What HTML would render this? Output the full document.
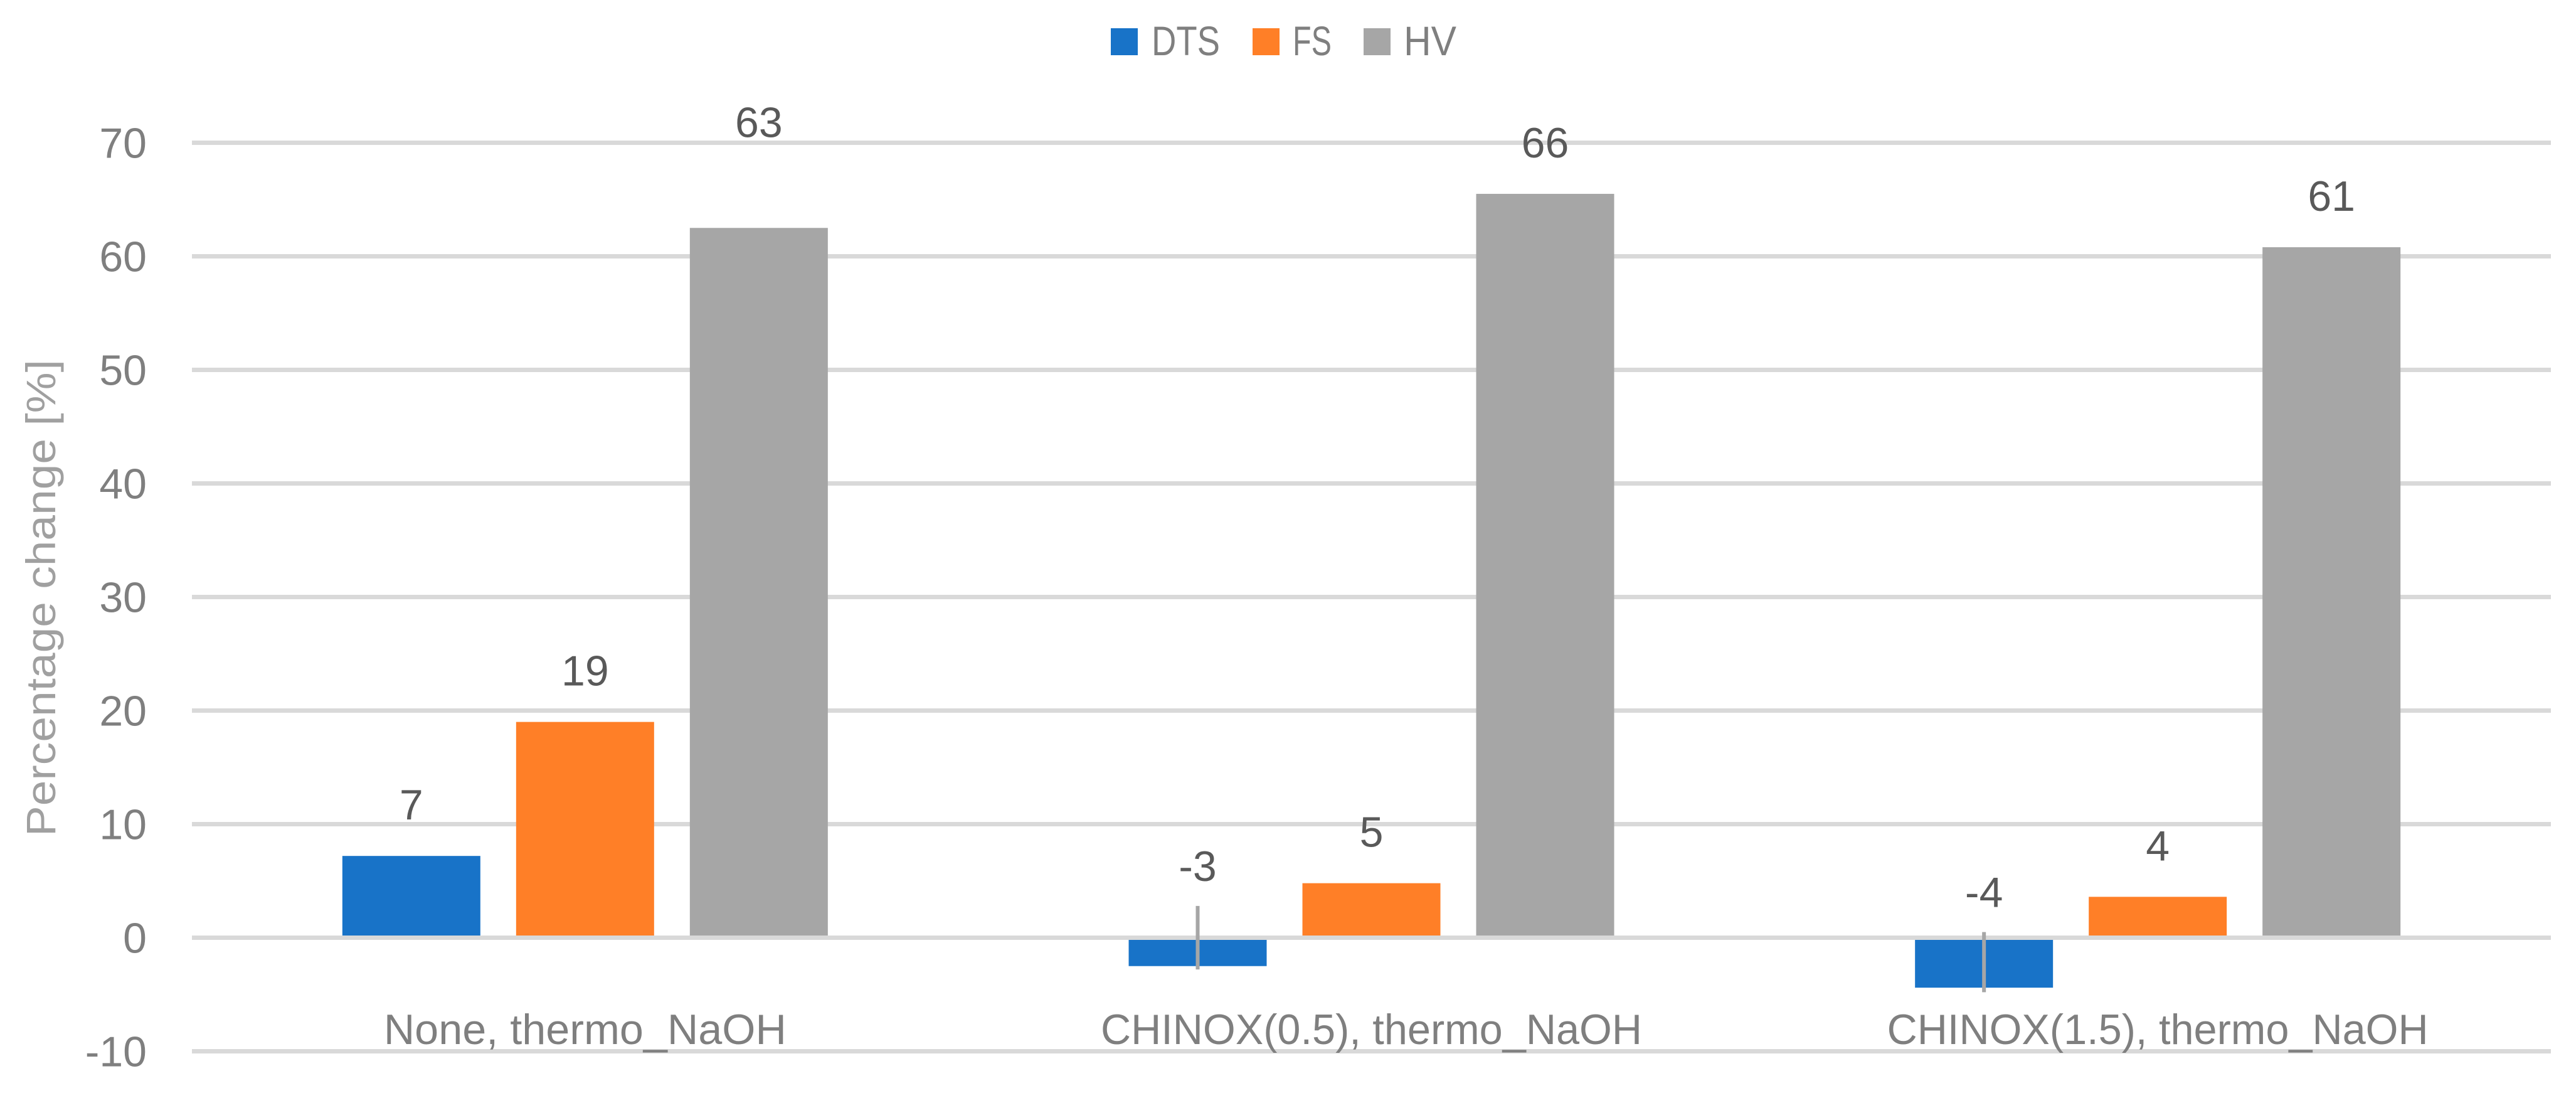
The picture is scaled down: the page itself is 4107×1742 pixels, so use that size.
<!DOCTYPE html>
<html><head><meta charset="utf-8"><style>
html,body{margin:0;padding:0;background:#fff;}
svg{display:block;}
text{font-family:"Liberation Sans",sans-serif;}
</style></head><body>
<svg id="chart" width="4107" height="1742" viewBox="0 0 4107 1742" xmlns="http://www.w3.org/2000/svg">
<g id="legend">
 <g><rect x="1771" y="45" width="43" height="43" fill="#1873C8"/><text x="1836" y="88" font-size="66" fill="#7f7f7f" textLength="109" lengthAdjust="spacingAndGlyphs">DTS</text></g>
 <g><rect x="1997" y="45" width="43" height="43" fill="#FF7F27"/><text x="2061" y="88" font-size="66" fill="#7f7f7f" textLength="62" lengthAdjust="spacingAndGlyphs">FS</text></g>
 <g><rect x="2174" y="45" width="43" height="43" fill="#A6A6A6"/><text x="2238" y="88" font-size="66" fill="#7f7f7f" textLength="84" lengthAdjust="spacingAndGlyphs">HV</text></g>
</g>
<text transform="translate(88,953) rotate(-90)" text-anchor="middle" font-size="66" fill="#a0a0a0" textLength="760" lengthAdjust="spacingAndGlyphs">Percentage change [%]</text>
<g id="grid"></g><g id="ticks"></g><g id="bars"></g><g id="errs"></g><g id="labels"></g><g id="cats"></g>
</svg>
<script>
const categories = ["None, thermo_NaOH", "CHINOX(0.5), thermo_NaOH", "CHINOX(1.5), thermo_NaOH"];
const seriesNames = ["DTS", "FS", "HV"];
const dtsValues = [7.2, -2.5, -4.4];
const fsValues = [19.0, 4.8, 3.6];
const hvValues = [62.5, 65.5, 60.8];
const dtsLabels = ["7", "-3", "-4"];
const fsLabels = ["19", "5", "4"];
const hvLabels = ["63", "66", "61"];
const dtsErrTop = [null, 2.8, 0.5];
const dtsErrBottom = [null, -2.8, -4.8];
const hvErrTop = [67.3, null, null];
const yTicks = [-10, 0, 10, 20, 30, 40, 50, 60, 70];
const yTickLabels = ["-10", "0", "10", "20", "30", "40", "50", "60", "70"];

const NS = "http://www.w3.org/2000/svg";
const plotL = 306, plotR = 4067, y0 = 1494.5, pxPerUnit = 18.1;
function yScale(v){ return y0 - v * pxPerUnit; }
const groupW = (plotR - plotL) / categories.length;
const barW = 220, barStep = 277;
function xBar(ci, si){ return plotL + groupW * ci + groupW / 2 - barW / 2 + (si - 1) * barStep; }
function mk(tag, attrs, parent){ const e = document.createElementNS(NS, tag); for (const k in attrs) e.setAttribute(k, attrs[k]); parent.appendChild(e); return e; }

const grid = document.getElementById('grid'), ticks = document.getElementById('ticks');
yTicks.forEach((t, i) => {
  const l = mk('line', {x1: plotL, x2: plotR, y1: yScale(t), y2: yScale(t), stroke: '#d9d9d9', 'stroke-width': 7}, grid);
  
  
  const tx = mk('text', {x: 234, y: yScale(t) + 24, 'text-anchor': 'end', 'font-size': 68, fill: '#7f7f7f'}, ticks);
  tx.textContent = yTickLabels[i];
  
  
});

const colors = ["#1873C8", "#FF7F27", "#A6A6A6"];
const allVals = [dtsValues, fsValues, hvValues];
const allLabels = [dtsLabels, fsLabels, hvLabels];
const bars = document.getElementById('bars'), labels = document.getElementById('labels'), errs = document.getElementById('errs'), cats = document.getElementById('cats');
categories.forEach((c, ci) => {
  allVals.forEach((vals, si) => {
    const v = vals[ci];
    const x = xBar(ci, si);
    let top, h;
    if (v >= 0) { top = yScale(v); h = (y0 - 3.5) - top; }
    else { top = y0 + 3.5; h = yScale(v) - top; }
    const r = mk('rect', {x: x, y: top, width: barW, height: Math.max(0, h), fill: colors[si]}, bars);
    
    
    let ly;
    if (si === 0 && dtsErrTop[ci] !== null) ly = yScale(dtsErrTop[ci]) - 40;
    else if (si === 2 && hvErrTop[ci] !== null) ly = yScale(hvErrTop[ci]) - 58;
    else if (v >= 0) ly = yScale(v) - 58;
    else ly = y0 - 90;
    const t = mk('text', {x: x + barW / 2, y: ly, 'text-anchor': 'middle', 'font-size': 68, fill: '#595959'}, labels);
    t.textContent = allLabels[si][ci];
    
    
  });
  if (dtsErrTop[ci] !== null) {
    const xc = xBar(ci, 0) + barW / 2;
    const e = mk('line', {x1: xc, x2: xc, y1: yScale(dtsErrTop[ci]), y2: yScale(dtsErrBottom[ci]), stroke: '#a6a6a6', 'stroke-width': 6}, errs);
    
    
  }
  const ct = mk('text', {x: plotL + groupW * ci + groupW / 2, y: 1664, 'text-anchor': 'middle', 'font-size': 68, fill: '#7f7f7f'}, cats);
  ct.textContent = c;
  ct.setAttribute('textLength', ci === 0 ? 642 : 863);
  ct.setAttribute('lengthAdjust', 'spacingAndGlyphs');
  
  
});
</script>
</body></html>
